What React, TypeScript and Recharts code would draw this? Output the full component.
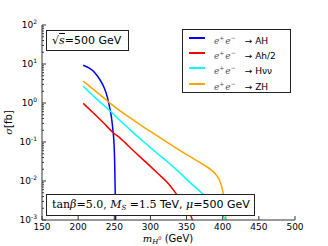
import React from 'react';
import { LineChart, Line, XAxis, YAxis } from 'recharts';

// ---- data ----
const mAH = [207, 215, 223, 230, 236, 240, 242, 244, 246, 248, 249.5, 250.5, 251.2, 251.8];
const sAH = [9.3, 7.9, 6.0, 4.0, 2.45, 1.5, 1.05, 0.7, 0.44, 0.21, 0.1, 0.032, 0.0063, 0.001];

const mAh = [207, 220, 235, 249, 258, 275, 294, 310, 325, 336, 346, 356, 358];
const sAh = [0.98, 0.58, 0.31, 0.17, 0.126, 0.063, 0.03, 0.0158, 0.0085, 0.0046, 0.0025, 0.00126, 0.001];

const mHnn = [207, 220, 230, 242, 258, 275, 293, 310, 323, 340, 355, 371, 385, 397, 405];
const sHnn = [2.7, 1.58, 1.07, 0.68, 0.355, 0.182, 0.093, 0.05, 0.0316, 0.0166, 0.0091, 0.0049, 0.0026, 0.0015, 0.001];

const mZH = [207, 225, 242, 258, 279, 300, 320, 341, 360, 375, 385, 392, 396, 399, 401, 403, 404.5];
const sZH = [3.63, 1.95, 1.07, 0.63, 0.34, 0.186, 0.107, 0.06, 0.037, 0.025, 0.0186, 0.0135, 0.01, 0.0066, 0.0044, 0.0024, 0.001];

const xTicks = [150, 200, 250, 300, 350, 400, 450, 500];
const yMajor = [0.001, 0.01, 0.1, 1, 10, 100];
const yMajorExp = ['-3', '-2', '-1', '0', '1', '2'];
const yMinor = [
  0.002, 0.003, 0.004, 0.005, 0.006, 0.007, 0.008, 0.009,
  0.02, 0.03, 0.04, 0.05, 0.06, 0.07, 0.08, 0.09,
  0.2, 0.3, 0.4, 0.5, 0.6, 0.7, 0.8, 0.9,
  2, 3, 4, 5, 6, 7, 8, 9,
  20, 30, 40, 50, 60, 70, 80, 90,
];
const seriesNames = ['AH', 'Ah/2', 'Hνν', 'ZH'];
const seriesColors = ['#0000ff', '#ff0000', '#00ffff', '#ffa500'];

const toRows = (m: number[], s: number[]) => m.map((v, i) => ({ m: v, s: s[i] }));
const seriesData = [toRows(mAH, sAH), toRows(mAh, sAh), toRows(mHnn, sHnn), toRows(mZH, sZH)];
const yTicks = [...yMajor, ...yMinor].sort((a, b) => a - b);

const SANS = 'DejaVu Sans, sans-serif';
const SERIF = 'DejaVu Serif, serif';
const FRAME = '#333';

const XTickBottom = (props: any) => {
  const { x, y, payload } = props;
  return (
    <g>
      <line x1={x} x2={x} y1={y} y2={y - 4} stroke={FRAME} strokeWidth={1} />
      <text x={x} y={y + 10} textAnchor="middle" fontSize={9} fontFamily={SANS} fill="#000">
        {payload.value}
      </text>
    </g>
  );
};

const XTickTop = (props: any) => {
  const { x, y } = props;
  return <line x1={x} x2={x} y1={y} y2={y + 4} stroke={FRAME} strokeWidth={1} />;
};

const YTickLeft = (props: any) => {
  const { x, y, payload } = props;
  const idx = yMajor.indexOf(payload.value);
  const major = idx >= 0;
  return (
    <g>
      <line x1={x} x2={x + (major ? 4 : 2)} y1={y} y2={y} stroke={FRAME} strokeWidth={1} />
      {major && (
        <text x={x - 5} y={y + 3} textAnchor="end" fontSize={9} fontFamily={SANS} fill="#000">
          10
          <tspan dy={-4} fontSize={6}>{yMajorExp[idx]}</tspan>
        </text>
      )}
    </g>
  );
};

const YTickRight = (props: any) => {
  const { x, y, payload } = props;
  const major = yMajor.indexOf(payload.value) >= 0;
  return <line x1={x} x2={x - (major ? 4 : 2)} y1={y} y2={y} stroke={FRAME} strokeWidth={1} />;
};

const LegendBox = () => (
  <div
    style={{
      position: 'absolute',
      left: 182,
      top: 29,
      width: 109,
      height: 64,
      border: '1px solid #222',
      background: '#fff',
      boxSizing: 'border-box',
    }}
  >
    {seriesNames.map((name, i) => (
      <div key={name} style={{ position: 'absolute', left: 0, top: 1 + i * 15.2, height: 14, width: 107 }}>
        <div
          style={{
            position: 'absolute',
            left: 6,
            top: 6,
            width: 16,
            height: 2,
            background: seriesColors[i],
          }}
        />
        <div
          style={{
            position: 'absolute',
            left: 31,
            top: 0,
            whiteSpace: 'nowrap',
            fontSize: 9,
            lineHeight: '14px',
            color: '#000',
            fontFamily: SANS,
          }}
        >
          <span style={{ fontFamily: SERIF, fontStyle: 'italic', color: '#555' }}>e</span>
          <sup style={{ fontSize: 6, color: '#555', verticalAlign: 4 }}>+</sup>
          <span style={{ fontFamily: SERIF, fontStyle: 'italic', color: '#555', marginLeft: 1 }}>e</span>
          <sup style={{ fontSize: 6, color: '#555', verticalAlign: 4 }}>−</sup>
          <span style={{ marginLeft: 9 }}>→ </span>
          <span>{name}</span>
        </div>
      </div>
    ))}
  </div>
);

export default function App() {
  return (
    <div style={{ position: 'absolute', left: 0, top: 0, width: 328, height: 246, background: '#fff' }}>
      <LineChart width={328} height={246} margin={{ top: 25, right: 33, bottom: 0, left: 0 }}>
        <XAxis
          xAxisId="b"
          type="number"
          dataKey="m"
          domain={[150, 500]}
          ticks={xTicks}
          interval={0}
          height={26}
          tickSize={0}
          tickMargin={0}
          tickLine={false}
          axisLine={{ stroke: FRAME, strokeWidth: 1 }}
          tick={<XTickBottom />}
        />
        <XAxis
          xAxisId="t"
          orientation="top"
          type="number"
          dataKey="m"
          domain={[150, 500]}
          ticks={xTicks}
          interval={0}
          height={0}
          tickSize={0}
          tickMargin={0}
          tickLine={false}
          axisLine={{ stroke: FRAME, strokeWidth: 1 }}
          tick={<XTickTop />}
        />
        <YAxis
          yAxisId="l"
          scale="log"
          domain={[0.001, 100]}
          allowDataOverflow
          ticks={yTicks}
          interval={0}
          width={42}
          tickSize={0}
          tickMargin={0}
          tickLine={false}
          axisLine={{ stroke: FRAME, strokeWidth: 1 }}
          tick={<YTickLeft />}
        />
        <YAxis
          yAxisId="r"
          orientation="right"
          scale="log"
          domain={[0.001, 100]}
          allowDataOverflow
          ticks={yTicks}
          interval={0}
          width={0}
          tickSize={0}
          tickMargin={0}
          tickLine={false}
          axisLine={{ stroke: FRAME, strokeWidth: 1 }}
          tick={<YTickRight />}
        />
        {seriesData.map((d, i) => (
          <Line
            key={seriesNames[i]}
            xAxisId="b"
            yAxisId="l"
            data={d}
            dataKey="s"
            name={seriesNames[i]}
            type="monotone"
            stroke={seriesColors[i]}
            strokeWidth={1.5}
            dot={false}
            isAnimationActive={false}
          />
        ))}
      </LineChart>
      <svg
        width={328}
        height={246}
        style={{ position: 'absolute', left: 0, top: 0, pointerEvents: 'none' }}
      >
        <text x={168} y={242} textAnchor="middle" fontSize={10} fontFamily={SANS} fill="#000">
          <tspan fontFamily={SERIF} fontStyle="italic">m</tspan>
          <tspan fontFamily={SERIF} fontStyle="italic" fontSize={7} dy={1.5}>H</tspan>
          <tspan fontFamily={SERIF} fontSize={5} dy={-4}>0</tspan>
          <tspan dy={2.5}> (GeV)</tspan>
        </text>
        <text
          x={12}
          y={122.5}
          transform="rotate(-90, 12, 122.5)"
          textAnchor="middle"
          fontSize={10}
          fontFamily={SANS}
          fill="#000"
        >
          <tspan fontFamily={SERIF} fontStyle="italic">σ</tspan>
          <tspan>[fb]</tspan>
        </text>
      </svg>
      <LegendBox />
      <div
        style={{
          position: 'absolute',
          left: 46,
          top: 30,
          width: 83,
          height: 21,
          border: '1px solid #222',
          background: '#fff',
          boxSizing: 'border-box',
          fontSize: 11,
          lineHeight: '19px',
          fontFamily: SANS,
          paddingLeft: 5,
          whiteSpace: 'nowrap',
        }}
      >
        <span style={{ fontFamily: SERIF }}>√</span>
        <span style={{ fontFamily: SERIF, fontStyle: 'italic', borderTop: '1px solid #000' }}>s</span>
        <span>=500 GeV</span>
      </div>
      <div
        style={{
          position: 'absolute',
          left: 46,
          top: 194,
          width: 209,
          height: 22,
          border: '1px solid #222',
          background: '#fff',
          boxSizing: 'border-box',
          fontSize: 11,
          lineHeight: '20px',
          fontFamily: SANS,
          paddingLeft: 5,
          whiteSpace: 'nowrap',
        }}
      >
        <span style={{ fontFamily: SERIF }}>tan</span>
        <span style={{ fontFamily: SERIF, fontStyle: 'italic' }}>β</span>
        <span style={{ fontFamily: SERIF }}>=5.0, </span>
        <span style={{ fontFamily: SERIF, fontStyle: 'italic' }}>M</span>
        <sub style={{ fontFamily: SERIF, fontStyle: 'italic', fontSize: 7, verticalAlign: -2 }}>S</sub>
        <span style={{ fontFamily: SERIF }}> =1.5 </span>
        <span>TeV, </span>
        <span style={{ fontFamily: SERIF, fontStyle: 'italic' }}>μ</span>
        <span>=500 GeV</span>
      </div>
    </div>
  );
}
